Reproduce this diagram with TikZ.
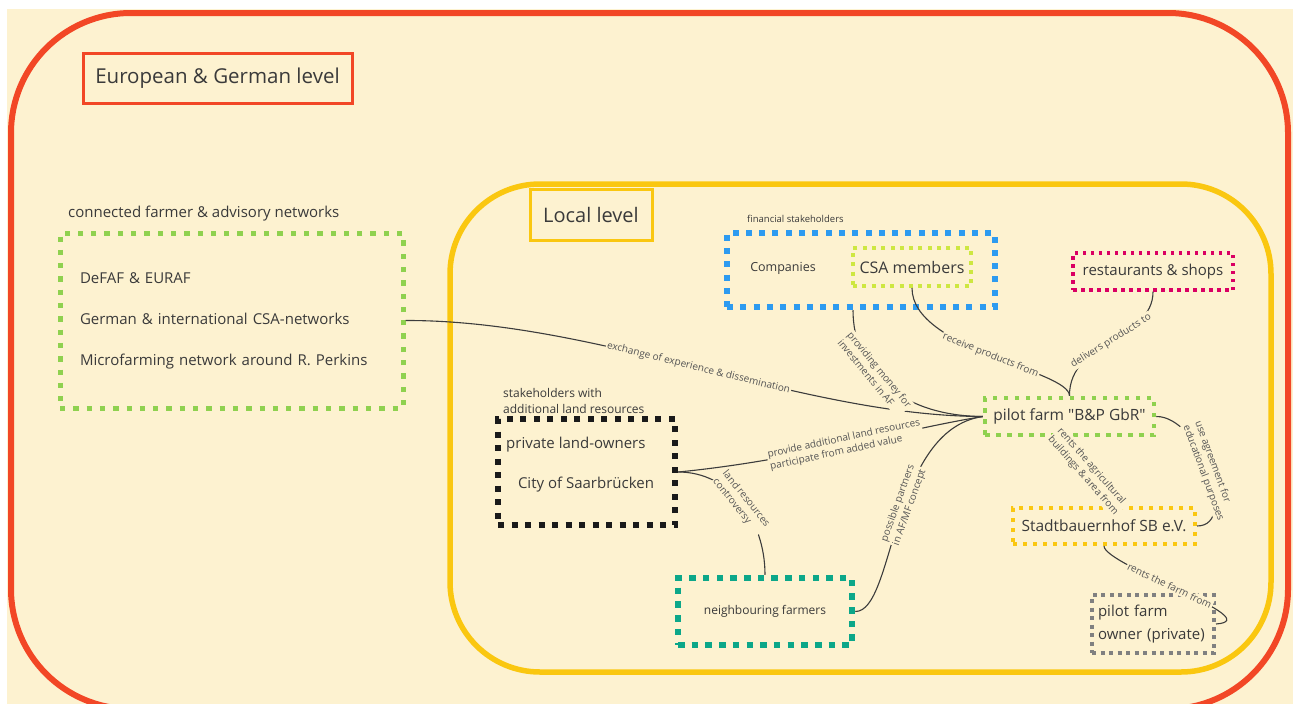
\documentclass[tikz,border=0pt]{standalone}
\usepackage{fontspec}
\setmainfont{Open Sans}[Ligatures=TeXOff]
\definecolor{bg}{HTML}{FDF2D0}
\definecolor{redf}{HTML}{F24726}
\definecolor{yelf}{HTML}{FAC710}
\definecolor{grn}{HTML}{8FD14F}
\definecolor{blu}{HTML}{2D9BF0}
\definecolor{limeg}{HTML}{CEE741}
\definecolor{mag}{HTML}{DA0063}
\definecolor{blk}{HTML}{1A1A1A}
\definecolor{teal2}{HTML}{0CA789}
\definecolor{gry}{HTML}{808080}
\definecolor{txt}{HTML}{3A3A3A}
\definecolor{labc}{HTML}{555555}
\definecolor{linkc}{HTML}{3C3C3C}
\newcommand\myfs[2]{\fontsize{#1}{#2}\selectfont}
\begin{document}
\begin{tikzpicture}[x=1pt,y=-1pt,
  plain/.style={inner sep=0pt, text=txt},
  lab/.style={sloped, fill=bg, inner sep=1.2pt, font=\myfs{10}{12.5}, text=labc, align=left},
  link/.style={draw=linkc, line width=1.1pt},
]
\useasboundingbox (0,0) rectangle (1293,704);
\clip (0,0) rectangle (1293,704);
\fill[white] (0,0) rectangle (1293,704);
\fill[bg] (7,9) rectangle (1293,704);
% frames
\draw[draw=redf, line width=6pt, rounded corners=120pt] (11,13) rectangle (1288,709);
\draw[draw=yelf, line width=5.5pt, rounded corners=90pt] (450,184) rectangle (1271,672);
% level titles
\node[draw=redf, line width=3pt, minimum width=269pt, minimum height=50pt, font=\myfs{20.5}{24}, text=txt] (eu) at (217.5,78) {European \& German level};
\node[draw=yelf, line width=3pt, minimum width=122pt, minimum height=51pt, font=\myfs{20}{24}, text=txt] (loc) at (591,214.5) {Local level};
% networks
\node[plain, anchor=west, font=\myfs{15}{18}] (netlab) at (68,214) {connected farmer \& advisory networks};
\node[draw=grn, line width=5pt, dash pattern=on 5.3pt off 8pt, minimum width=343pt, minimum height=175pt, text width=303pt, inner xsep=20pt, align=left, font=\myfs{15}{41}, text=txt] (net) at (231.5,320.5) {DeFAF \& EURAF\\German \& international CSA-networks\\Microfarming network around R. Perkins};
% financial
\node[plain, anchor=west, font=\myfs{9.5}{12}] (finlab) at (747,219) {financial stakeholders};
\node[draw=blu, line width=6.5pt, dash pattern=on 6pt off 7.3pt, minimum width=268pt, minimum height=74pt] (fin) at (861,270) {};
\node[plain, font=\myfs{12.5}{15}] (comp) at (783,268) {Companies};
\node[draw=limeg, line width=4pt, dash pattern=on 4pt off 5.3pt, minimum width=118pt, minimum height=38pt, font=\myfs{16}{19}, text=txt] (csa) at (912,267) {CSA members};
% restaurants
\node[draw=mag, line width=3.5pt, dash pattern=on 3.5pt off 4.5pt, minimum width=160pt, minimum height=37pt, font=\myfs{15}{18}, text=txt] (rest) at (1153,271.5) {restaurants \& shops};
% pilot farm
\node[draw=grn, line width=4.5pt, dash pattern=on 4.5pt off 6.5pt, minimum width=169pt, minimum height=37pt, font=\myfs{15.5}{19}, text=txt] (pilot) at (1069.5,416.5) {pilot farm "B\&P GbR"};
% land
\node[plain, anchor=west, align=left, font=\myfs{12}{16}] (stlab) at (503,401) {stakeholders with\\additional land resources};
\node[draw=blk, line width=6.5pt, dash pattern=on 6pt off 7.5pt, minimum width=177pt, minimum height=106pt] (land) at (586.5,472) {};
\node[plain, anchor=west, font=\myfs{15}{18}] (plo) at (506,445) {private land-owners};
\node[plain, font=\myfs{15}{18}] (city) at (586,485) {City of Saarbrücken};
% neighbours
\node[draw=teal2, line width=6.5pt, dash pattern=on 6.5pt off 7.2pt, minimum width=174pt, minimum height=67pt, font=\myfs{12}{15}, text=txt] (nb) at (765,611.5) {neighbouring farmers};
% Stadtbauernhof
\node[draw=yelf, line width=4pt, dash pattern=on 4pt off 6pt, minimum width=182pt, minimum height=36pt, font=\myfs{15.5}{19}, text=txt] (stadt) at (1104,526) {Stadtbauernhof SB e.V.};
% owner
\node[draw=gry, line width=4pt, dash pattern=on 4pt off 4.5pt, minimum width=122pt, minimum height=58pt, text width=110pt, inner xsep=6pt, align=left, font=\myfs{15}{23}, text=txt] (owner) at (1153,624) {pilot farm\\owner (private)};
% connectors
\draw[link] (net.east) .. controls (600,320) and (800,416) .. node[lab,pos=.5] {exchange of experience \& dissemination} (pilot.west);
\draw[link] ([xshift=-8pt]fin.south) .. controls (853,370) and (900,416) .. node[lab,pos=.4] {providing money for\\investments in AF} (pilot.west);
\draw[link] (csa.south) .. controls (912,350) and (1069,370) .. node[lab,pos=.5] {receive products from} (pilot.north);
\draw[link] (rest.south) .. controls (1153,340) and (1069,340) .. node[lab,pos=.5] {delivers products to} (pilot.north);
\draw[link] (land.east) .. controls (800,460) and (900,430) .. node[lab,pos=.5] {provide additional land resources\\participate from added value} (pilot.west);
\draw[link] (land.east) .. controls (730,472) and (765,520) .. node[lab,pos=.5] {land resources\\controversy} (nb.north);
\draw[link] (nb.east) .. controls (895,612) and (890,430) .. node[lab,pos=.55] {possible partners\\in AF/MF concept} (pilot.west);
\draw[link] ([xshift=-12pt]pilot.south) -- node[lab,pos=.5] {rents the agricultural\\buildings \& area from} ([xshift=14pt]stadt.north);
\draw[link] (pilot.east) .. controls (1200,416) and (1240,526) .. node[lab,pos=.5] {use agreement for\\educational purposes} (stadt.east);
\draw[link] (stadt.south) .. controls (1104,565) and (1270,620) .. node[lab,pos=.45] {rents the farm from} (owner.east);
\end{tikzpicture}
\end{document}
